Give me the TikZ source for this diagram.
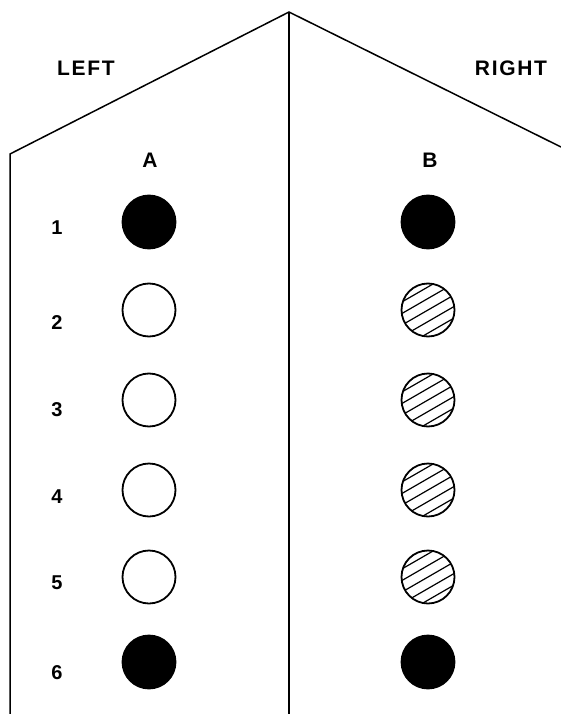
\documentclass[tikz,border=0pt]{standalone}
\usepackage{fontspec}
\newfontfamily\lblfont[LetterSpace=8]{Liberation Sans}
\usetikzlibrary{positioning}

\begin{document}
\begin{tikzpicture}[
    x=1pt, y=-1pt,
    wall/.style={line width=1.5pt, line join=miter},
    lbl/.style={font=\lblfont\bfseries\fontsize{21}{21}\selectfont, inner sep=0pt},
    num/.style={font=\lblfont\bfseries\fontsize{20}{20}\selectfont, inner sep=0pt},
    dot/.style={circle, draw=black, line width=1.8pt, minimum size=53pt, inner sep=0pt},
    soliddot/.style={dot, fill=black},
    opendot/.style={dot, fill=white},
    hatchdot/.style={dot, path picture={
        \foreach \k in {-3,...,3}
            \draw[line width=1.2pt] (path picture bounding box.center)
                ++(120:\k*10pt) ++(30:-40pt) -- ++(30:80pt);}},
]
    \useasboundingbox (0,0) rectangle (561,714);

    % Corner outline
    \coordinate (apex) at (289,12);
    \coordinate (leftcorner) at (10,154);
    \coordinate (rightend) at (561,147);
    \coordinate (leftfoot) at (10,714);
    \coordinate (midfoot) at (289,714);
    \draw[wall] (leftfoot) -- (leftcorner) -- (apex) -- (rightend);
    \draw[wall] (apex) -- (midfoot);

    % Wall names
    \node[lbl] (left) at (86,68) {LEFT};
    \node[lbl] (right) at (511,68) {RIGHT};
    \node[lbl] (colA) at (150,160) {A};
    \node[lbl] (colB) at (430,160) {B};

    % Rows
    \foreach \r/\y/\ny/\sa/\sb in {1/222/228/soliddot/soliddot,
                                   2/310/323/opendot/hatchdot,
                                   3/400/410/opendot/hatchdot,
                                   4/490/497/opendot/hatchdot,
                                   5/577/583/opendot/hatchdot,
                                   6/662/673/soliddot/soliddot}{
        \node[num] (row\r) at (57,\ny) {\r};
        \node[\sa] (dotA\r) at (149,\y) {};
        \node[\sb] (dotB\r) at (428,\y) {};
    }
\end{tikzpicture}
\end{document}
